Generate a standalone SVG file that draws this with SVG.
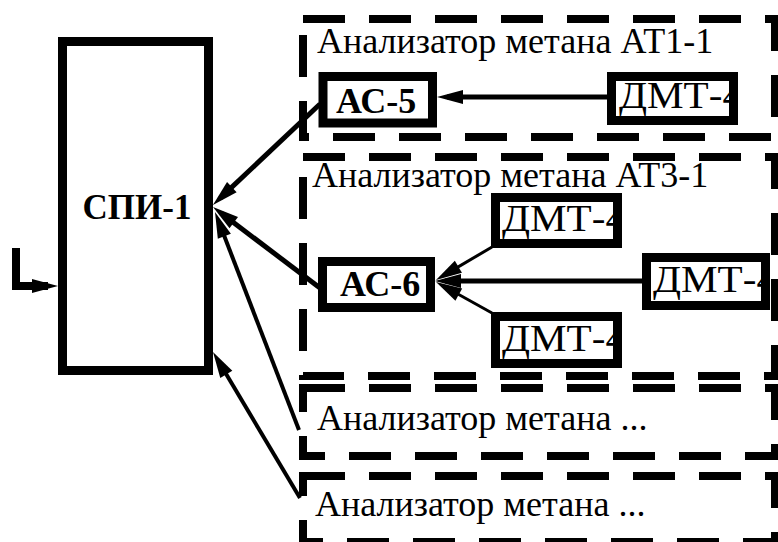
<svg xmlns="http://www.w3.org/2000/svg" width="778" height="542" viewBox="0 0 778 542">
<style>
.grp{fill:none;stroke:#000;stroke-width:8;stroke-dasharray:42 24}
.box{fill:#fff;stroke:#000;stroke-width:9}
.frame{fill:none;stroke:#000;stroke-width:9}
.bg{fill:#fff}
.lbl{font-family:"Liberation Serif","Times New Roman",serif;font-size:36px;fill:#000}
.bold{font-family:"Liberation Serif","Times New Roman",serif;font-weight:bold;fill:#000}
.dmt{font-family:"Liberation Serif","Times New Roman",serif;font-size:38px;fill:#000}
.c{fill:none;stroke:#000}
</style>
<defs>
<marker id="ah" markerUnits="userSpaceOnUse" markerWidth="26" markerHeight="14" refX="16" refY="7" orient="auto" overflow="visible">
<path d="M0,0 L26,7 L0,14 Z" fill="#000"/>
</marker>
<clipPath id="k1"><rect x="616" y="81" width="114" height="35"/></clipPath>
<clipPath id="k2"><rect x="500" y="202" width="113" height="37"/></clipPath>
<clipPath id="k3"><rect x="651" y="262" width="110" height="39"/></clipPath>
<clipPath id="k4"><rect x="500" y="321" width="113" height="38"/></clipPath>
</defs>
<rect width="778" height="542" fill="#fff"/>
<g id="group-at1">
<rect class="grp" x="303" y="19" width="472" height="118"/>
<text class="lbl" x="317" y="53">Анализатор метана АТ1-1</text>
</g>
<g id="group-at3">
<rect class="grp" x="303" y="157" width="472" height="219"/>
<text class="lbl" x="312" y="187">Анализатор метана АТ3-1</text>
</g>
<g id="group-3">
<rect class="grp" x="303" y="388" width="472" height="68"/>
<text class="lbl" x="317" y="430">Анализатор метана ...</text>
</g>
<g id="group-4">
<rect class="grp" x="303" y="476" width="472" height="66"/>
<text class="lbl" x="315" y="516">Анализатор метана ...</text>
</g>
<g id="connectors">
<polyline class="c" stroke-width="8" points="16,248 16,286 48,286" marker-end="url(#ah)"/>
<line class="c" stroke-width="5" x1="607" y1="97" x2="447" y2="97" marker-end="url(#ah)"/>
<line class="c" stroke-width="5" x1="320" y1="104" x2="220.2" y2="198.1" marker-end="url(#ah)"/>
<line class="c" stroke-width="5" x1="320" y1="288" x2="221" y2="213" marker-end="url(#ah)"/>
<line class="c" stroke-width="4" x1="299" y1="430" x2="218.6" y2="221.3" marker-end="url(#ah)"/>
<line class="c" stroke-width="4" x1="300" y1="498" x2="218.1" y2="360.6" marker-end="url(#ah)"/>
<line class="c" stroke-width="5" x1="642" y1="281" x2="445" y2="281" marker-end="url(#ah)"/>
<line class="c" stroke-width="3" x1="492" y1="247" x2="444.6" y2="274.9" marker-end="url(#ah)"/>
<line class="c" stroke-width="3" x1="492" y1="313" x2="444.8" y2="286.8" marker-end="url(#ah)"/>
</g>
<g id="spi1">
<rect class="box" x="62.5" y="41.5" width="146" height="329"/>
<text class="bold" x="137" y="219" font-size="35" text-anchor="middle">СПИ-1</text>
</g>
<g id="ac5">
<rect class="box" x="323" y="76.5" width="109.5" height="46.5"/>
<text class="bold" x="336" y="113" font-size="36">АС-5</text>
</g>
<g id="dmt-1">
<rect class="bg" x="607" y="72" width="131" height="53"/>
<text class="dmt" x="619" y="108" textLength="124" lengthAdjust="spacingAndGlyphs" clip-path="url(#k1)">ДМТ-4</text>
<rect class="frame" x="611.5" y="76.5" width="122" height="44"/>
</g>
<g id="ac6">
<rect class="box" x="322.5" y="261.5" width="108" height="46"/>
<text class="bold" x="340" y="296" font-size="36">АС-6</text>
</g>
<g id="dmt-2">
<rect class="bg" x="491" y="193" width="131" height="55"/>
<text class="dmt" x="502" y="231" textLength="124" lengthAdjust="spacingAndGlyphs" clip-path="url(#k2)">ДМТ-4</text>
<rect class="frame" x="495.5" y="197.5" width="122" height="46"/>
</g>
<g id="dmt-3">
<rect class="bg" x="642" y="253" width="128" height="57"/>
<text class="dmt" x="653" y="292" textLength="124" lengthAdjust="spacingAndGlyphs" clip-path="url(#k3)">ДМТ-4</text>
<rect class="frame" x="646.5" y="257.5" width="119" height="48"/>
</g>
<g id="dmt-4">
<rect class="bg" x="491" y="312" width="131" height="56"/>
<text class="dmt" x="502" y="351" textLength="124" lengthAdjust="spacingAndGlyphs" clip-path="url(#k4)">ДМТ-4</text>
<rect class="frame" x="495.5" y="316.5" width="122" height="47"/>
</g>
</svg>
